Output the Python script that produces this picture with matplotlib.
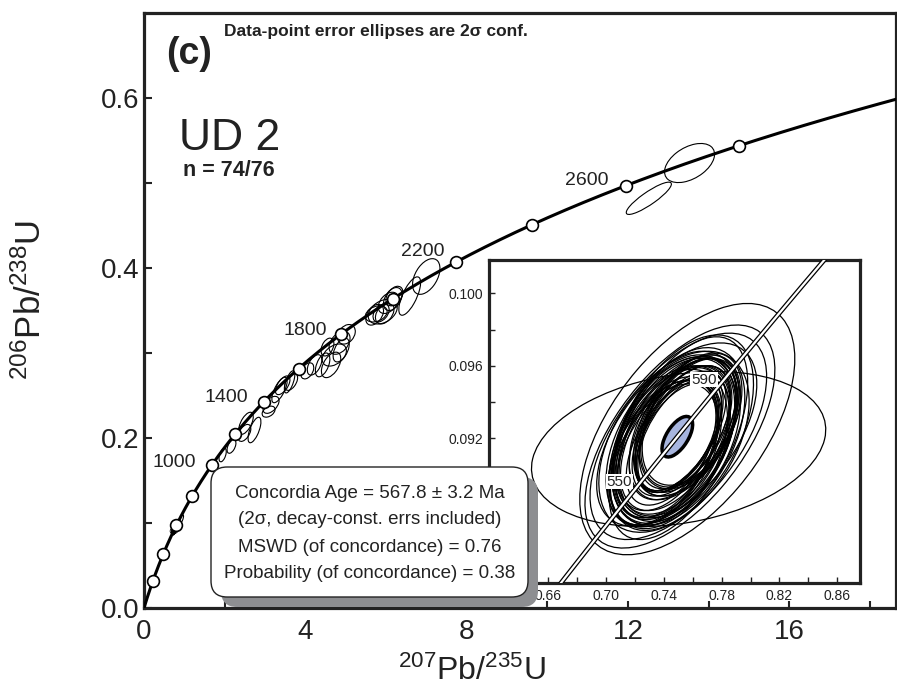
import numpy as np
import matplotlib
matplotlib.use("Agg")
import matplotlib.pyplot as plt
import matplotlib.transforms as transforms
from matplotlib.patches import Ellipse, FancyBboxPatch

plt.rcParams['font.family'] = ['Liberation Sans', 'DejaVu Sans']
plt.rcParams['mathtext.default'] = 'regular'

# U decay constants (1/yr), used for the concordia curve
L238 = 1.55125e-10
L235 = 9.8485e-10

# ages (Ma) marked on the concordia
marker_ages = [200, 400, 600, 800, 1000, 1200, 1400, 1600, 1800, 2000, 2200, 2400, 2600, 2800]
label_ages = [1000, 1400, 1800, 2200, 2600]
inset_label_ages = [550, 590]

# old grains: 207/235, half-width, 206/238, half-height, error correlation
old_x = [13.53, 12.52, 7.00, 6.59, 5.92, 6.17, 6.21, 5.97, 6.06, 5.76, 5.72, 5.88,
         5.02, 4.85, 4.89, 4.64, 4.43, 4.23, 4.72, 4.55, 4.05,
         3.61, 3.36, 3.44, 3.15, 3.65, 3.09, 2.74, 2.53, 2.49, 2.17, 1.95, 0.93]
old_sx = [0.62, 0.56, 0.34, 0.27, 0.36, 0.23, 0.21, 0.23, 0.25, 0.27, 0.22, 0.20,
          0.22, 0.26, 0.20, 0.24, 0.18, 0.18, 0.30, 0.16, 0.16,
          0.13, 0.19, 0.18, 0.20, 0.16, 0.16, 0.16, 0.18, 0.16, 0.11, 0.09, 0.05]
old_y = [0.5235, 0.482, 0.390, 0.367, 0.3486, 0.3635, 0.367, 0.3467, 0.359, 0.346, 0.345, 0.347,
         0.322, 0.312, 0.3035, 0.286, 0.286, 0.286, 0.2976, 0.307, 0.279,
         0.266, 0.2565, 0.262, 0.239, 0.266, 0.231, 0.2094, 0.2173, 0.206, 0.190, 0.180, 0.1045]
old_sy = [0.023, 0.019, 0.021, 0.0226, 0.0145, 0.0135, 0.0115, 0.0125, 0.0125, 0.0095, 0.0122, 0.0105,
          0.0115, 0.0135, 0.014, 0.015, 0.014, 0.012, 0.013, 0.0105, 0.0095,
          0.013, 0.015, 0.011, 0.010, 0.010, 0.0065, 0.015, 0.013, 0.010, 0.008, 0.008, 0.005]
old_rho = [0.45, 0.88, 0.45, 0.70, 0.35, 0.40, 0.40, 0.40, 0.40, 0.30, 0.40, 0.40,
           0.30, 0.40, 0.50, 0.50, 0.50, 0.50, 0.40, 0.40, 0.40,
           0.65, 0.70, 0.60, 0.50, 0.50, 0.40, 0.65, 0.60, 0.50, 0.50, 0.50, 0.70]

# young cluster (shown in the inset)
young_x = [0.7502, 0.7562, 0.7511, 0.7500, 0.7489, 0.752, 0.747, 0.750,
           0.742, 0.756, 0.748, 0.751, 0.739, 0.758, 0.745, 0.753, 0.749, 0.744,
           0.755, 0.747, 0.752, 0.741, 0.757, 0.750, 0.746, 0.754, 0.748, 0.743,
           0.751, 0.759, 0.740, 0.749, 0.753, 0.745, 0.750, 0.756, 0.744, 0.752,
           0.747, 0.755, 0.742, 0.750, 0.748]
young_sx = [0.1018, 0.0744, 0.0657, 0.0611, 0.0554, 0.050, 0.052, 0.048,
            0.034, 0.036, 0.042, 0.030, 0.038, 0.033, 0.045, 0.037, 0.028, 0.040,
            0.035, 0.043, 0.031, 0.039, 0.034, 0.046, 0.032, 0.038, 0.041, 0.036,
            0.029, 0.035, 0.037, 0.044, 0.033, 0.040, 0.030, 0.037, 0.042, 0.034,
            0.039, 0.032, 0.036, 0.041, 0.038]
young_y = [0.0914, 0.0925, 0.09209, 0.0921, 0.0922, 0.0923, 0.0918, 0.0920,
           0.0916, 0.0926, 0.0921, 0.0923, 0.0912, 0.0929, 0.0918, 0.0925, 0.0920, 0.0915,
           0.0927, 0.0919, 0.0924, 0.0913, 0.0928, 0.0921, 0.0917, 0.0926, 0.0920, 0.0914,
           0.0922, 0.0930, 0.0911, 0.0921, 0.0925, 0.0917, 0.0922, 0.0927, 0.0915, 0.0924,
           0.0919, 0.0926, 0.0914, 0.0921, 0.0920]
young_sy = [0.00428, 0.00694, 0.00616, 0.00570, 0.00506, 0.0054, 0.0050, 0.0056,
            0.0036, 0.0038, 0.0045, 0.0032, 0.0040, 0.0035, 0.0047, 0.0039, 0.0030, 0.0043,
            0.0037, 0.0046, 0.0033, 0.0041, 0.0036, 0.0049, 0.0034, 0.0040, 0.0044, 0.0038,
            0.0031, 0.0037, 0.0039, 0.0047, 0.0035, 0.0042, 0.0032, 0.0039, 0.0045, 0.0036,
            0.0041, 0.0034, 0.0038, 0.0044, 0.0040]
young_rho = [0.25, 0.56, 0.60, 0.58, 0.55, 0.50, 0.45, 0.55,
             0.45, 0.50, 0.40, 0.55, 0.48, 0.42, 0.45, 0.52, 0.50, 0.38,
             0.47, 0.43, 0.55, 0.46, 0.40, 0.44, 0.52, 0.48, 0.42, 0.50,
             0.55, 0.45, 0.47, 0.40, 0.52, 0.44, 0.50, 0.46, 0.41, 0.53,
             0.45, 0.49, 0.43, 0.47, 0.50]

# concordia age ellipse
conc_x, conc_sx, conc_y, conc_sy, conc_rho = 0.7493, 0.0106, 0.09208, 0.00112, 0.6

box_lines = ["Concordia Age = 567.8 \u00b1 3.2 Ma",
             "(2\u03c3, decay-const. errs included)",
             "MSWD (of concordance) = 0.76",
             "Probability (of concordance) = 0.38"]


def concordia(ages):
    t = np.asarray(ages, dtype=float) * 1e6
    return np.exp(L235 * t) - 1, np.exp(L238 * t) - 1


def add_ellipse(ax, x, sx, y, sy, rho, **kw):
    # unit ellipse for correlation rho, then scaled to the half-extents
    e = Ellipse((0, 0), width=2 * np.sqrt(1 + rho), height=2 * np.sqrt(1 - rho), **kw)
    tr = transforms.Affine2D().rotate_deg(45).scale(sx, sy).translate(x, y)
    e.set_transform(tr + ax.transData)
    ax.add_patch(e)


fig = plt.figure(figsize=(8.97, 6.85), dpi=100)

# ---- main concordia plot
ax = fig.add_axes([144 / 897, 77 / 685, 752 / 897, 595 / 685])
ax.set_xlim(0, 18.65)
ax.set_ylim(0, 0.70)

cx, cy = concordia(np.linspace(0, 3100, 800))
ax.plot(cx, cy, color='black', lw=2.2, zorder=3)

for i in range(len(old_x)):
    add_ellipse(ax, old_x[i], old_sx[i], old_y[i], old_sy[i], old_rho[i],
                fill=False, ec='black', lw=0.8, zorder=4)
for i in range(len(young_x)):
    add_ellipse(ax, young_x[i], young_sx[i], young_y[i], young_sy[i], young_rho[i],
                fill=False, ec='black', lw=0.6, zorder=4)

mx, my = concordia(marker_ages)
ax.plot(mx, my, 'o', ms=8.5, mfc='white', mec='black', mew=1.2, zorder=5)

label_offsets = {1000: (-11, 2), 1400: (-11, 3), 1800: (-10, 3), 2200: (-8, 8), 2600: (-12, 4)}
lx, ly = concordia(label_ages)
for age, x, y in zip(label_ages, lx, ly):
    ax.annotate(str(age), (x, y), xytext=label_offsets[age], textcoords='offset points',
                ha='right', va='center', fontsize=14, color='#222222')

ax.set_xticks([0, 4, 8, 12, 16])
ax.set_xticks([2, 6, 10, 14, 18], minor=True)
ax.set_yticks([0.0, 0.2, 0.4, 0.6])
ax.set_yticklabels(['0.0', '0.2', '0.4', '0.6'])
ax.set_yticks([0.1, 0.3, 0.5], minor=True)
ax.tick_params(which='both', direction='in', width=1.5, labelsize=20, colors='#222222')
ax.tick_params(axis='x', which='both', length=5, pad=8)
ax.tick_params(axis='y', which='both', length=6, pad=3)
for s in ax.spines.values():
    s.set_linewidth(2.3)
    s.set_color('#222222')

fig.text(0.5262, 0.008, r'$^{207}$Pb/$^{235}$U', fontsize=23, ha='center', va='baseline', color='#222222')
fig.text(0.034, 0.562, r'$^{206}$Pb/$^{238}$U', fontsize=25, ha='center', va='center',
         rotation=90, color='#222222')

ax.text(0.029, 0.915, '(c)', transform=ax.transAxes, fontsize=27, fontweight='bold', color='#222222')
ax.text(0.107, 0.962, 'Data-point error ellipses are 2\u03c3 conf.', transform=ax.transAxes,
        fontsize=12.5, fontweight='bold', color='#222222')
ax.text(0.046, 0.770, 'UD 2', transform=ax.transAxes, fontsize=32, color='#222222')
ax.text(0.052, 0.726, 'n = 74/76', transform=ax.transAxes, fontsize=15.5, fontweight='bold', color='#222222')

# ---- inset
axi = fig.add_axes([489 / 897, 102 / 685, 371 / 897, 323 / 685])
axi.set_xlim(0.619, 0.8757)
axi.set_ylim(0.08402, 0.10184)

for i in range(len(young_x)):
    add_ellipse(axi, young_x[i], young_sx[i], young_y[i], young_sy[i], young_rho[i],
                fill=False, ec='black', lw=0.9, zorder=2)
add_ellipse(axi, conc_x, conc_sx, conc_y, conc_sy, conc_rho,
            fc='#a7b5de', ec='black', lw=2.5, zorder=3)

bx, by = concordia(np.linspace(480, 680, 300))
axi.plot(bx, by, color='black', lw=3.4, zorder=4)
axi.plot(bx, by, color='white', lw=1.6, zorder=4.1)

ilx, ily = concordia(inset_label_ages)
inset_offsets = {550: (-10, 7), 590: (-21, -8)}
for age, x, y in zip(inset_label_ages, ilx, ily):
    axi.annotate(str(age), (x, y), xytext=inset_offsets[age], textcoords='offset points',
                 ha='center', va='center', fontsize=11, color='#222222', zorder=6,
                 bbox=dict(boxstyle='square,pad=0.05', fc='white', ec='none'))

# labels at 0.62 / 0.084 / 0.088 sit under the result box, so they are left blank
axi.set_xticks([0.62, 0.66, 0.70, 0.74, 0.78, 0.82, 0.86])
axi.set_xticklabels(['', '0.66', '0.70', '0.74', '0.78', '0.82', '0.86'])
axi.set_xticks([0.64, 0.68, 0.72, 0.76, 0.80, 0.84], minor=True)
axi.set_yticks([0.084, 0.088, 0.092, 0.096, 0.100])
axi.set_yticklabels(['', '', '0.092', '0.096', '0.100'])
axi.set_yticks([0.086, 0.090, 0.094, 0.098], minor=True)
axi.tick_params(which='both', direction='in', length=4, width=1.0, labelsize=10,
                pad=4, colors='#222222')
for s in axi.spines.values():
    s.set_linewidth(2.3)
    s.set_color('#222222')

# ---- result box with shadow (drawn over the inset corner)
asp = 897 / 685
shadow = FancyBboxPatch((221 / 897, 78 / 685), 317 / 897, 130 / 685,
                        boxstyle='round,pad=0,rounding_size=0.018', mutation_aspect=asp,
                        transform=fig.transFigure, fc='#8d8e91', ec='none', zorder=10)
box = FancyBboxPatch((211 / 897, 88 / 685), 317 / 897, 130 / 685,
                     boxstyle='round,pad=0,rounding_size=0.018', mutation_aspect=asp,
                     transform=fig.transFigure, fc='white', ec='#222222', lw=1.0, zorder=11)
fig.patches.append(shadow)
fig.patches.append(box)
for k, line in enumerate(box_lines):
    fig.text(369.5 / 897, (685 - 493 - 27 * k) / 685, line, fontsize=13.5, ha='center',
             va='center', color='#222222', zorder=12)

fig.savefig('out.png', dpi=100)
